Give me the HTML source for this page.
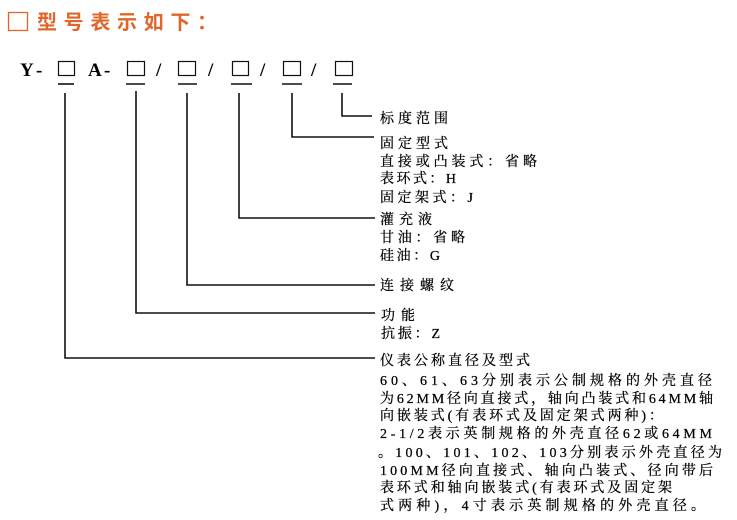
<!DOCTYPE html>
<html><head><meta charset="utf-8"><style>
html,body{margin:0;padding:0;background:#fff;width:737px;height:520px;overflow:hidden}
svg text{font-family:"Liberation Serif","Noto Serif CJK SC","Noto Sans CJK SC",serif;fill:#000}
</style></head><body>
<svg width="737" height="520" viewBox="0 0 737 520" xmlns="http://www.w3.org/2000/svg">
<rect x="8.5" y="12.5" width="19" height="18" fill="none" stroke="#e0672a" stroke-width="1.3"/>
<text x="37" y="29" font-size="20" textLength="180" lengthAdjust="spacing" style="fill:#e0672a;font-family:'Noto Sans CJK SC',sans-serif;font-weight:bold">型号表示如下：</text>
<g font-size="19" font-weight="bold" style="font-family:'Liberation Mono',monospace">
<text x="20" y="76">Y</text><text x="36" y="76">-</text>
<text x="88" y="76">A</text><text x="104" y="76">-</text>
<text x="156" y="76">/</text><text x="208" y="76">/</text><text x="260" y="76">/</text><text x="311" y="76">/</text>
</g>
<g fill="none" stroke="#111" stroke-width="1.2">
<rect x="58.5" y="61.5" width="16" height="14"/>
<rect x="127.5" y="61.5" width="17" height="14"/>
<rect x="178.5" y="61.5" width="17" height="14"/>
<rect x="232.5" y="61.5" width="16" height="14"/>
<rect x="283.5" y="61.5" width="17" height="14"/>
<rect x="335.5" y="61.5" width="17" height="14"/>
</g>
<g stroke="#111" stroke-width="1.6" fill="none">
<line x1="58" y1="84" x2="74" y2="84"/><line x1="126" y1="84" x2="145" y2="84"/>
<line x1="178" y1="84" x2="197" y2="84"/><line x1="231" y1="84" x2="252" y2="84"/>
<line x1="282" y1="84" x2="302" y2="84"/><line x1="333" y1="84" x2="352" y2="84"/>
<polyline points="342,93 342,116 372,116"/>
<polyline points="292,93 292,137 374,137"/>
<polyline points="239,93 239,218 375,218"/>
<polyline points="187,93 187,285 375,285"/>
<polyline points="136,91 136,313 375,313"/>
<polyline points="65,93 65,358 375,358"/>
</g>
<g font-size="14" stroke="#000" stroke-width="0.25">
<text x="380" y="123" textLength="68" lengthAdjust="spacing">标度范围</text>
<text x="380" y="148" textLength="68" lengthAdjust="spacing">固定型式</text>
<text x="380" y="166" textLength="157" lengthAdjust="spacing">直接或凸装式：省略</text>
<text x="380" y="183" textLength="76" lengthAdjust="spacing">表环式：H</text>
<text x="380" y="202" textLength="93" lengthAdjust="spacing">固定架式：J</text>
<text x="380" y="224" textLength="52" lengthAdjust="spacing">灌充液</text>
<text x="380" y="242" textLength="85" lengthAdjust="spacing">甘油：省略</text>
<text x="380" y="260" textLength="60" lengthAdjust="spacing">硅油：G</text>
<text x="380" y="290" textLength="74" lengthAdjust="spacing">连接螺纹</text>
<text x="381" y="320" textLength="34" lengthAdjust="spacing">功能</text>
<text x="381" y="338" textLength="59" lengthAdjust="spacing">抗振：Z</text>
<text x="380" y="365" textLength="150" lengthAdjust="spacing">仪表公称直径及型式</text>
<text x="380" y="385" textLength="332" lengthAdjust="spacing">60、61、63分别表示公制规格的外壳直径</text>
<text x="380" y="403" textLength="333" lengthAdjust="spacing">为62MM径向直接式，轴向凸装式和64MM轴</text>
<text x="380" y="420" textLength="283" lengthAdjust="spacing">向嵌装式(有表环式及固定架式两种)：</text>
<text x="380" y="438" textLength="332" lengthAdjust="spacing">2-1/2表示英制规格的外壳直径62或64MM</text>
<text x="378" y="457" textLength="344" lengthAdjust="spacing">。100、101、102、103分别表示外壳直径为</text>
<text x="380" y="475" textLength="333" lengthAdjust="spacing">100MM径向直接式、轴向凸装式、径向带后</text>
<text x="380" y="492" textLength="292" lengthAdjust="spacing">表环式和轴向嵌装式(有表环式及固定架</text>
<text x="380" y="510" textLength="325" lengthAdjust="spacing">式两种)，4寸表示英制规格的外壳直径。</text>
</g>
</svg>
</body></html>
